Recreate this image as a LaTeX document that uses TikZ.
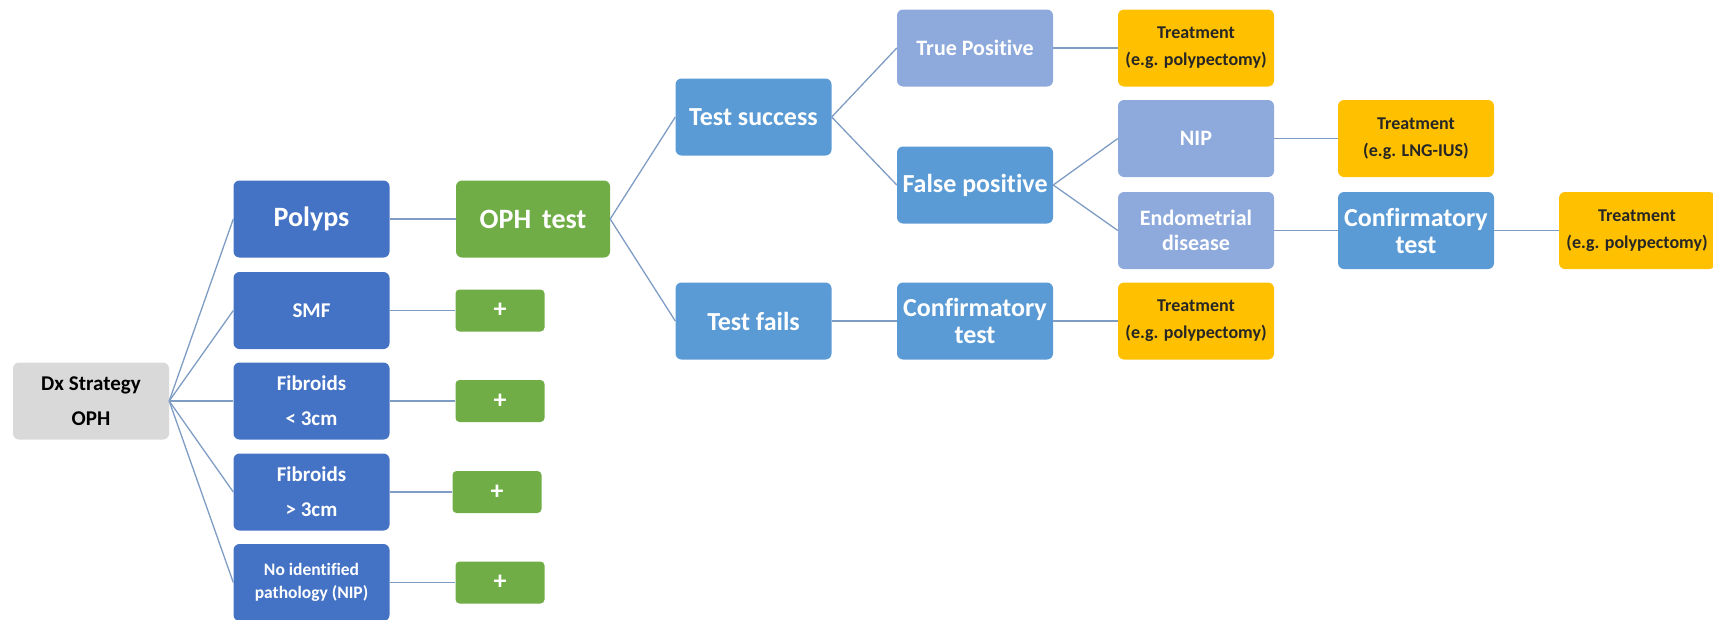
\documentclass[tikz,border=0pt]{standalone}
\usepackage{fontspec}
\setmainfont{Carlito}[Ligatures=NoCommon]
\definecolor{dkblue}{HTML}{4472C4}
\definecolor{mdblue}{HTML}{5B9BD5}
\definecolor{ltblue}{HTML}{8EA9DB}
\definecolor{grn}{HTML}{70AD47}
\definecolor{amber}{HTML}{FFC000}
\definecolor{gry}{HTML}{D9D9D9}
\definecolor{lnc}{HTML}{7F9CC4}
\definecolor{txtdark}{HTML}{262626}
\begin{document}
\begin{tikzpicture}[x=1pt,y=-1pt,
  bx/.style={rounded corners=6pt, minimum width=156pt, minimum height=77pt, align=center, inner sep=1pt, text=white},
  dxbox/.style={bx, fill=gry, text=black, font=\bfseries\fontsize{21}{35}\selectfont},
  c1big/.style={bx, fill=dkblue, font=\bfseries\fontsize{28}{30}\selectfont},
  c1/.style={bx, fill=dkblue, font=\bfseries\fontsize{21}{35}\selectfont},
  c1small/.style={bx, fill=dkblue, font=\bfseries\fontsize{17.5}{23}\selectfont},
  gbig/.style={bx, fill=grn, minimum width=154pt, font=\bfseries\fontsize{28}{30}\selectfont},
  plusbox/.style={rounded corners=4pt, fill=grn, text=white, minimum width=89pt, minimum height=42pt, inner sep=0pt, font=\bfseries\fontsize{26}{26}\selectfont},
  mbox/.style={bx, fill=mdblue, font=\bfseries\fontsize{26}{27}\selectfont},
  lbox/.style={bx, fill=ltblue, font=\bfseries\fontsize{22}{25}\selectfont},
  tbox/.style={bx, fill=amber, text=txtdark, font=\bfseries\fontsize{18}{27}\selectfont},
  ln/.style={draw=lnc, line width=1.3pt}
]
\useasboundingbox (0,0) rectangle (1713,619);
% column 0
\node[dxbox] (dx) at (91,401) {Dx Strategy\\OPH};
% column 1
\node[c1big] (polyps) at (311.5,219) {Polyps};
\node[c1] (smf) at (311.5,310.5) {SMF};
\node[c1] (fib1) at (311.5,401) {Fibroids\\\textless{} 3cm};
\node[c1] (fib2) at (311.5,492) {Fibroids\\\textgreater{} 3cm};
\node[c1small] (nip) at (311.5,582.5) {No identified\\pathology (NIP)};
% column 2
\node[gbig] (oph) at (533,219) {OPH\ \,test};
\node[plusbox] (p1) at (500,310.5) {+};
\node[plusbox] (p2) at (500,401) {+};
\node[plusbox] (p3) at (497,492) {+};
\node[plusbox] (p4) at (500,582.5) {+};
% column 3
\node[mbox] (succ) at (753.5,117) {Test success};
\node[mbox] (fail) at (753.5,321) {Test fails};
% column 4
\node[lbox] (tp) at (975,48) {True Positive};
\node[mbox] (fp) at (975,185) {False positive};
\node[mbox] (conf1) at (975,321) {Confirmatory\\test};
% column 5
\node[tbox] (t1) at (1196,48) {Treatment\\(e.g. polypectomy)};
\node[lbox] (nip2) at (1196,138.5) {NIP};
\node[lbox] (endo) at (1196,230.5) {Endometrial\\disease};
\node[tbox] (t2) at (1196,321) {Treatment\\(e.g. polypectomy)};
% column 6
\node[tbox] (t3) at (1416,138.5) {Treatment\\(e.g. LNG-IUS)};
\node[mbox] (conf2) at (1416,230.5) {Confirmatory\\test};
% column 7
\node[tbox] (t4) at (1637,230.5) {Treatment\\(e.g. polypectomy)};
% connectors
\foreach \n in {polyps,smf,fib1,fib2,nip} \draw[ln] (dx.east) -- (\n.west);
\draw[ln] (polyps) -- (oph);
\draw[ln] (smf) -- (p1);
\draw[ln] (fib1) -- (p2);
\draw[ln] (fib2) -- (p3);
\draw[ln] (nip) -- (p4);
\draw[ln] (oph.east) -- (succ.west);
\draw[ln] (oph.east) -- (fail.west);
\draw[ln] (succ.east) -- (tp.west);
\draw[ln] (succ.east) -- (fp.west);
\draw[ln] (fail) -- (conf1);
\draw[ln] (tp) -- (t1);
\draw[ln] (fp.east) -- (nip2.west);
\draw[ln] (fp.east) -- (endo.west);
\draw[ln] (conf1) -- (t2);
\draw[ln] (nip2) -- (t3);
\draw[ln] (endo) -- (conf2);
\draw[ln] (conf2) -- (t4);
\end{tikzpicture}
\end{document}
